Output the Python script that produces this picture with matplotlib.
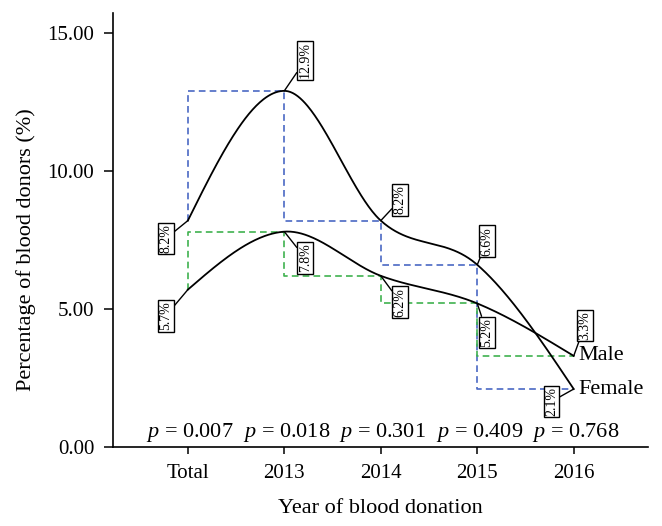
import numpy as np
import matplotlib
matplotlib.use('Agg')
import matplotlib.pyplot as plt
from matplotlib.patches import Rectangle

# ---------------- data ----------------
categories = ['Total', '2013', '2014', '2015', '2016']
female = [8.2, 12.9, 8.2, 6.6, 2.1]
male = [5.7, 7.8, 6.2, 5.2, 3.3]
p_values = ['0.007', '0.018', '0.301', '0.409', '0.768']
y_ticks = [0, 5, 10, 15]

# label offsets (points) for value boxes
female_offsets = [(-16, -13), (15, 22), (14, 15), (7, 17), (-16, -9)]
male_offsets = [(-16, -19), (15, -19), (14, -19), (7, -21), (8, 22)]

plt.rcParams['font.family'] = ['Liberation Serif', 'DejaVu Serif']
plt.rcParams['mathtext.fontset'] = 'custom'
plt.rcParams['mathtext.it'] = 'Liberation Serif:italic'
plt.rcParams['mathtext.rm'] = 'Liberation Serif'


def smooth(y, n=80):
    y = np.asarray(y, float)
    k = len(y)
    m = np.zeros(k)
    m[1:-1] = (y[2:] - y[:-2]) / 2.0
    m[0] = 1.5 * (y[1] - y[0]) - m[1] / 2.0
    m[-1] = 1.5 * (y[-1] - y[-2]) - m[-2] / 2.0
    t = np.linspace(0, 1, n)
    h00 = 2 * t**3 - 3 * t**2 + 1
    h10 = t**3 - 2 * t**2 + t
    h01 = -2 * t**3 + 3 * t**2
    h11 = t**3 - t**2
    xs, ys = [], []
    for i in range(k - 1):
        xs.append(i + t)
        ys.append(h00 * y[i] + h10 * m[i] + h01 * y[i + 1] + h11 * m[i + 1])
    return np.concatenate(xs), np.concatenate(ys)


W, H = 662, 526
fig = plt.figure(figsize=(W / 100, H / 100), dpi=100)
ax = fig.add_axes([113 / W, 79 / H, (648 - 113) / W, (447 - 13) / H])

x = np.arange(len(categories))
blue = '#4a68c4'
green = '#3fb24f'

ax.plot(x, female, drawstyle='steps-pre', ls='--', dashes=(4, 2.5), color=blue, lw=1.2, zorder=2)
ax.plot(x, male, drawstyle='steps-pre', ls='--', dashes=(4, 2.5), color=green, lw=1.2, zorder=2)

fx, fy = smooth(female)
mx, my = smooth(male)
ax.plot(fx, fy, color='black', lw=1.3, zorder=3)
ax.plot(mx, my, color='black', lw=1.3, zorder=3)

box = dict(boxstyle='square,pad=0.1', fc='white', ec='black', lw=1.0)
arrow = dict(arrowstyle='-', color='black', lw=1.0, shrinkA=0, shrinkB=0)
for series, offs in ((female, female_offsets), (male, male_offsets)):
    for i, v in enumerate(series):
        ax.annotate(f'{v:.1f}%', xy=(x[i], v), xytext=offs[i], textcoords='offset points',
                    rotation=90, ha='center', va='center', fontsize=10,
                    bbox=box, arrowprops=arrow, zorder=5)

ax.text(x[-1] + 0.05, male[-1], 'Male', ha='left', va='center', fontsize=16)
ax.text(x[-1] + 0.05, female[-1], 'Female', ha='left', va='center', fontsize=16)

for i, p in enumerate(p_values):
    ax.text(x[i] + 0.02, 0.36, f'$p$ = {p}', ha='center', va='baseline', fontsize=16)

ax.set_xlim(-0.776, 4.77)
ax.set_ylim(0, 15.72)
ax.set_xticks(x)
ax.set_xticklabels(categories)
ax.set_yticks(y_ticks)
ax.set_yticklabels([f'{v:.2f}' for v in y_ticks])
ax.tick_params(axis='y', direction='out', length=6.5, width=1.1, labelsize=15, pad=7)
ax.tick_params(axis='x', direction='out', length=5, width=1.1, labelsize=15, pad=7)
for s in ('top', 'right'):
    ax.spines[s].set_visible(False)
for s in ('left', 'bottom'):
    ax.spines[s].set_linewidth(1.2)

fig.text(26 / W, 1 - 250 / H, 'Percentage of blood donors (%)', rotation=90,
         ha='center', va='center', fontsize=16)
fig.text(380 / W, 13 / H, 'Year of blood donation', ha='center', va='baseline', fontsize=16)
# the reference image is cropped just below the x-axis title baseline
fig.patches.append(Rectangle((0, 0), 1, 13.5 / H, transform=fig.transFigure,
                             facecolor='white', edgecolor='none', zorder=10))

fig.savefig('out.png', dpi=100)
